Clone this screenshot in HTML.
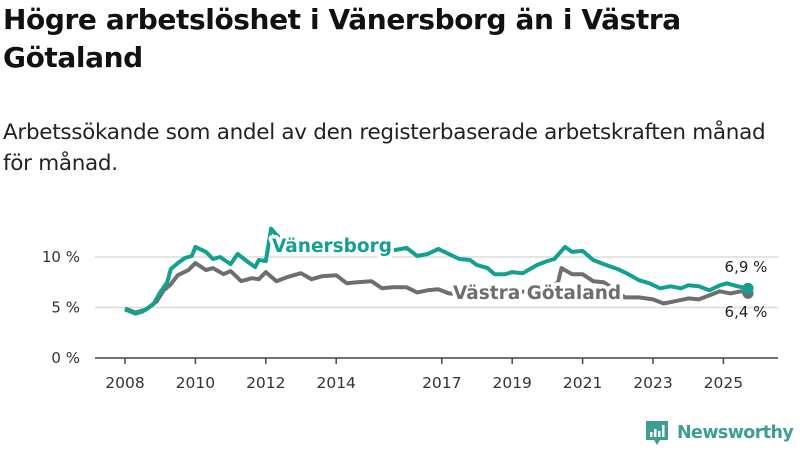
<!DOCTYPE html>
<html><head><meta charset="utf-8"><style>
body{margin:0;width:800px;height:450px;background:#fff;font-family:"Liberation Sans","DejaVu Sans",sans-serif;overflow:hidden;position:relative}
h1{position:absolute;left:3px;top:1px;margin:0;font-size:28px;line-height:38px;font-weight:bold;color:#111;font-family:"DejaVu Sans","Liberation Sans",sans-serif;letter-spacing:-0.4px}
p{position:absolute;left:3px;top:117px;margin:0;font-size:21.5px;line-height:31px;color:#222;font-family:"DejaVu Sans","Liberation Sans",sans-serif;letter-spacing:-0.3px}
svg{position:absolute;left:0;top:0}
</style></head><body>
<h1>Högre arbetslöshet i Vänersborg än i Västra<br>Götaland</h1>
<p>Arbetssökande som andel av den registerbaserade arbetskraften månad<br>för månad.</p>
<svg id="chart" width="800" height="450"></svg>
<script>
const yTicks=[0,5,10];
const yTickLabels=["0 %","5 %","10 %"];
const xTicks=[2008,2010,2012,2014,2017,2019,2021,2023,2025];
const vanYears=[2008,2008.3,2008.5,2008.8,2009,2009.2,2009.3,2009.5,2009.7,2009.9,2010,2010.3,2010.5,2010.7,2011,2011.2,2011.5,2011.7,2011.8,2012,2012.15,2012.3,2012.6,2013,2013.5,2014,2014.5,2015,2015.4,2015.7,2016,2016.3,2016.6,2016.9,2017.2,2017.5,2017.8,2018,2018.3,2018.5,2018.8,2019,2019.3,2019.7,2020,2020.2,2020.5,2020.7,2021,2021.3,2021.6,2022,2022.3,2022.6,2022.9,2023.2,2023.5,2023.8,2024,2024.3,2024.6,2024.9,2025.1,2025.4,2025.7];
const vanValues=[4.8,4.4,4.6,5.3,6.5,7.5,8.8,9.4,9.9,10.1,11.0,10.5,9.8,10.0,9.3,10.3,9.5,9.0,9.7,9.6,12.8,12.2,11.2,11.0,11.0,10.8,10.7,10.6,10.6,10.7,10.9,10.1,10.3,10.8,10.3,9.8,9.7,9.2,8.9,8.3,8.3,8.5,8.4,9.2,9.6,9.8,11.0,10.5,10.6,9.7,9.3,8.8,8.3,7.7,7.4,6.9,7.1,6.9,7.2,7.1,6.7,7.2,7.4,7.1,6.9];
const vgYears=[2008,2008.3,2008.6,2008.9,2009.1,2009.3,2009.5,2009.8,2010,2010.3,2010.5,2010.8,2011,2011.3,2011.6,2011.8,2012,2012.3,2012.6,2013,2013.3,2013.6,2014,2014.3,2014.6,2015,2015.3,2015.6,2016,2016.3,2016.6,2016.9,2017.2,2017.6,2018,2018.5,2019,2019.5,2020,2020.3,2020.4,2020.7,2021,2021.3,2021.6,2021.9,2022.2,2022.6,2023,2023.3,2023.6,2024,2024.3,2024.6,2024.9,2025.2,2025.5,2025.7];
const vgValues=[4.9,4.5,4.8,5.6,6.7,7.3,8.2,8.7,9.4,8.7,8.9,8.3,8.6,7.6,7.9,7.8,8.5,7.6,8.0,8.4,7.8,8.1,8.2,7.4,7.5,7.6,6.9,7.0,7.0,6.5,6.7,6.8,6.4,6.3,6.3,6.3,6.5,6.6,6.8,7.5,8.9,8.3,8.3,7.6,7.5,6.8,6.0,6.0,5.8,5.4,5.6,5.9,5.8,6.2,6.6,6.4,6.6,6.4];
const NS="http://www.w3.org/2000/svg";
const svg=document.getElementById('chart');
const x=v=>125+(v-2008)*35.2;
const y=v=>358-v*10.1;
function el(t,a){const e=document.createElementNS(NS,t);for(const k in a)e.setAttribute(k,a[k]);svg.appendChild(e);return e;}
yTicks.forEach((t,i)=>{
  if(t>0){const g=el('line',{x1:95,x2:778,y1:y(t),y2:y(t),stroke:'#dcdcdc','stroke-width':1.5});
  
  }
  const l=el('text',{x:80,y:y(t)+5,'text-anchor':'end','font-size':15,fill:'#333','font-family':'DejaVu Sans,Liberation Sans,sans-serif'});
  l.textContent=yTickLabels[i];
  
  
});
const ax=el('line',{x1:95,x2:778,y1:358,y2:358,stroke:'#444','stroke-width':1.5});


xTicks.forEach(t=>{
  const k=el('line',{x1:x(t),x2:x(t),y1:358,y2:364,stroke:'#444','stroke-width':1.5});
  
  
  const l=el('text',{x:x(t),y:388,'text-anchor':'middle','font-size':15.5,fill:'#333','font-family':'DejaVu Sans,Liberation Sans,sans-serif'});
  l.textContent=t;
  
  
});
function line(xs,vs,c,n){
  const d=xs.map((v,i)=>(i?'L':'M')+x(v).toFixed(1)+','+y(vs[i]).toFixed(1)).join('');
  const p=el('path',{d:d,fill:'none',stroke:c,'stroke-width':4,'stroke-linejoin':'round'});
  
  
}
line(vgYears,vgValues,'#6e6e6e','vastra-gotaland-line');
line(vanYears,vanValues,'#12a090','vanersborg-line');
function lab(t,xx,yy,c,n){
  const e=el('text',{x:xx,y:yy,'font-size':18.5,'font-weight':'bold',fill:c,stroke:'#fff','stroke-width':7,'paint-order':'stroke','stroke-linejoin':'round','font-family':'DejaVu Sans,Liberation Sans,sans-serif'});
  e.textContent=t;
  
  
}
lab('Vänersborg',272,252,'#12a090','vanersborg-label');
lab('Västra Götaland',453,299,'#6e6e6e','vastra-gotaland-label');
const lv=vgValues.length-1, lw=vanValues.length-1;
const d1=el('circle',{cx:x(vgYears[lv]),cy:y(vgValues[lv]),r:5.5,fill:'#6e6e6e'});


const d2=el('circle',{cx:x(vanYears[lw]),cy:y(vanValues[lw]),r:5.5,fill:'#12a090'});


function val(t,xx,yy,n){const e=el('text',{x:xx,y:yy,'text-anchor':'middle','font-size':15,fill:'#222','font-family':'DejaVu Sans,Liberation Sans,sans-serif'});e.textContent=t;

}
val(vanValues[lw].toFixed(1).replace('.',',')+' %',746,272,'vanersborg-end-value');
val(vgValues[lv].toFixed(1).replace('.',',')+' %',746,317,'vastra-gotaland-end-value');
</script>
<div style="position:absolute;left:645px;top:420px;display:flex;align-items:center">
<svg width="24" height="26" viewBox="0 0 24 26" style="position:static"><path d="M1 1h22v19h-8l-3 5-3-5H1z" fill="#3d9e93"/><rect x="5" y="12" width="2.5" height="5" fill="#fff"/><rect x="9" y="9" width="2.5" height="8" fill="#fff"/><rect x="13" y="11" width="2.5" height="6" fill="#fff"/><rect x="17" y="5" width="2.5" height="12" fill="#fff"/></svg>
<span style="margin-left:8px;font-size:17.5px;font-weight:bold;color:#3d9e93;font-family:'DejaVu Sans','Liberation Sans',sans-serif;letter-spacing:-0.6px">Newsworthy</span></div>
</body></html>
